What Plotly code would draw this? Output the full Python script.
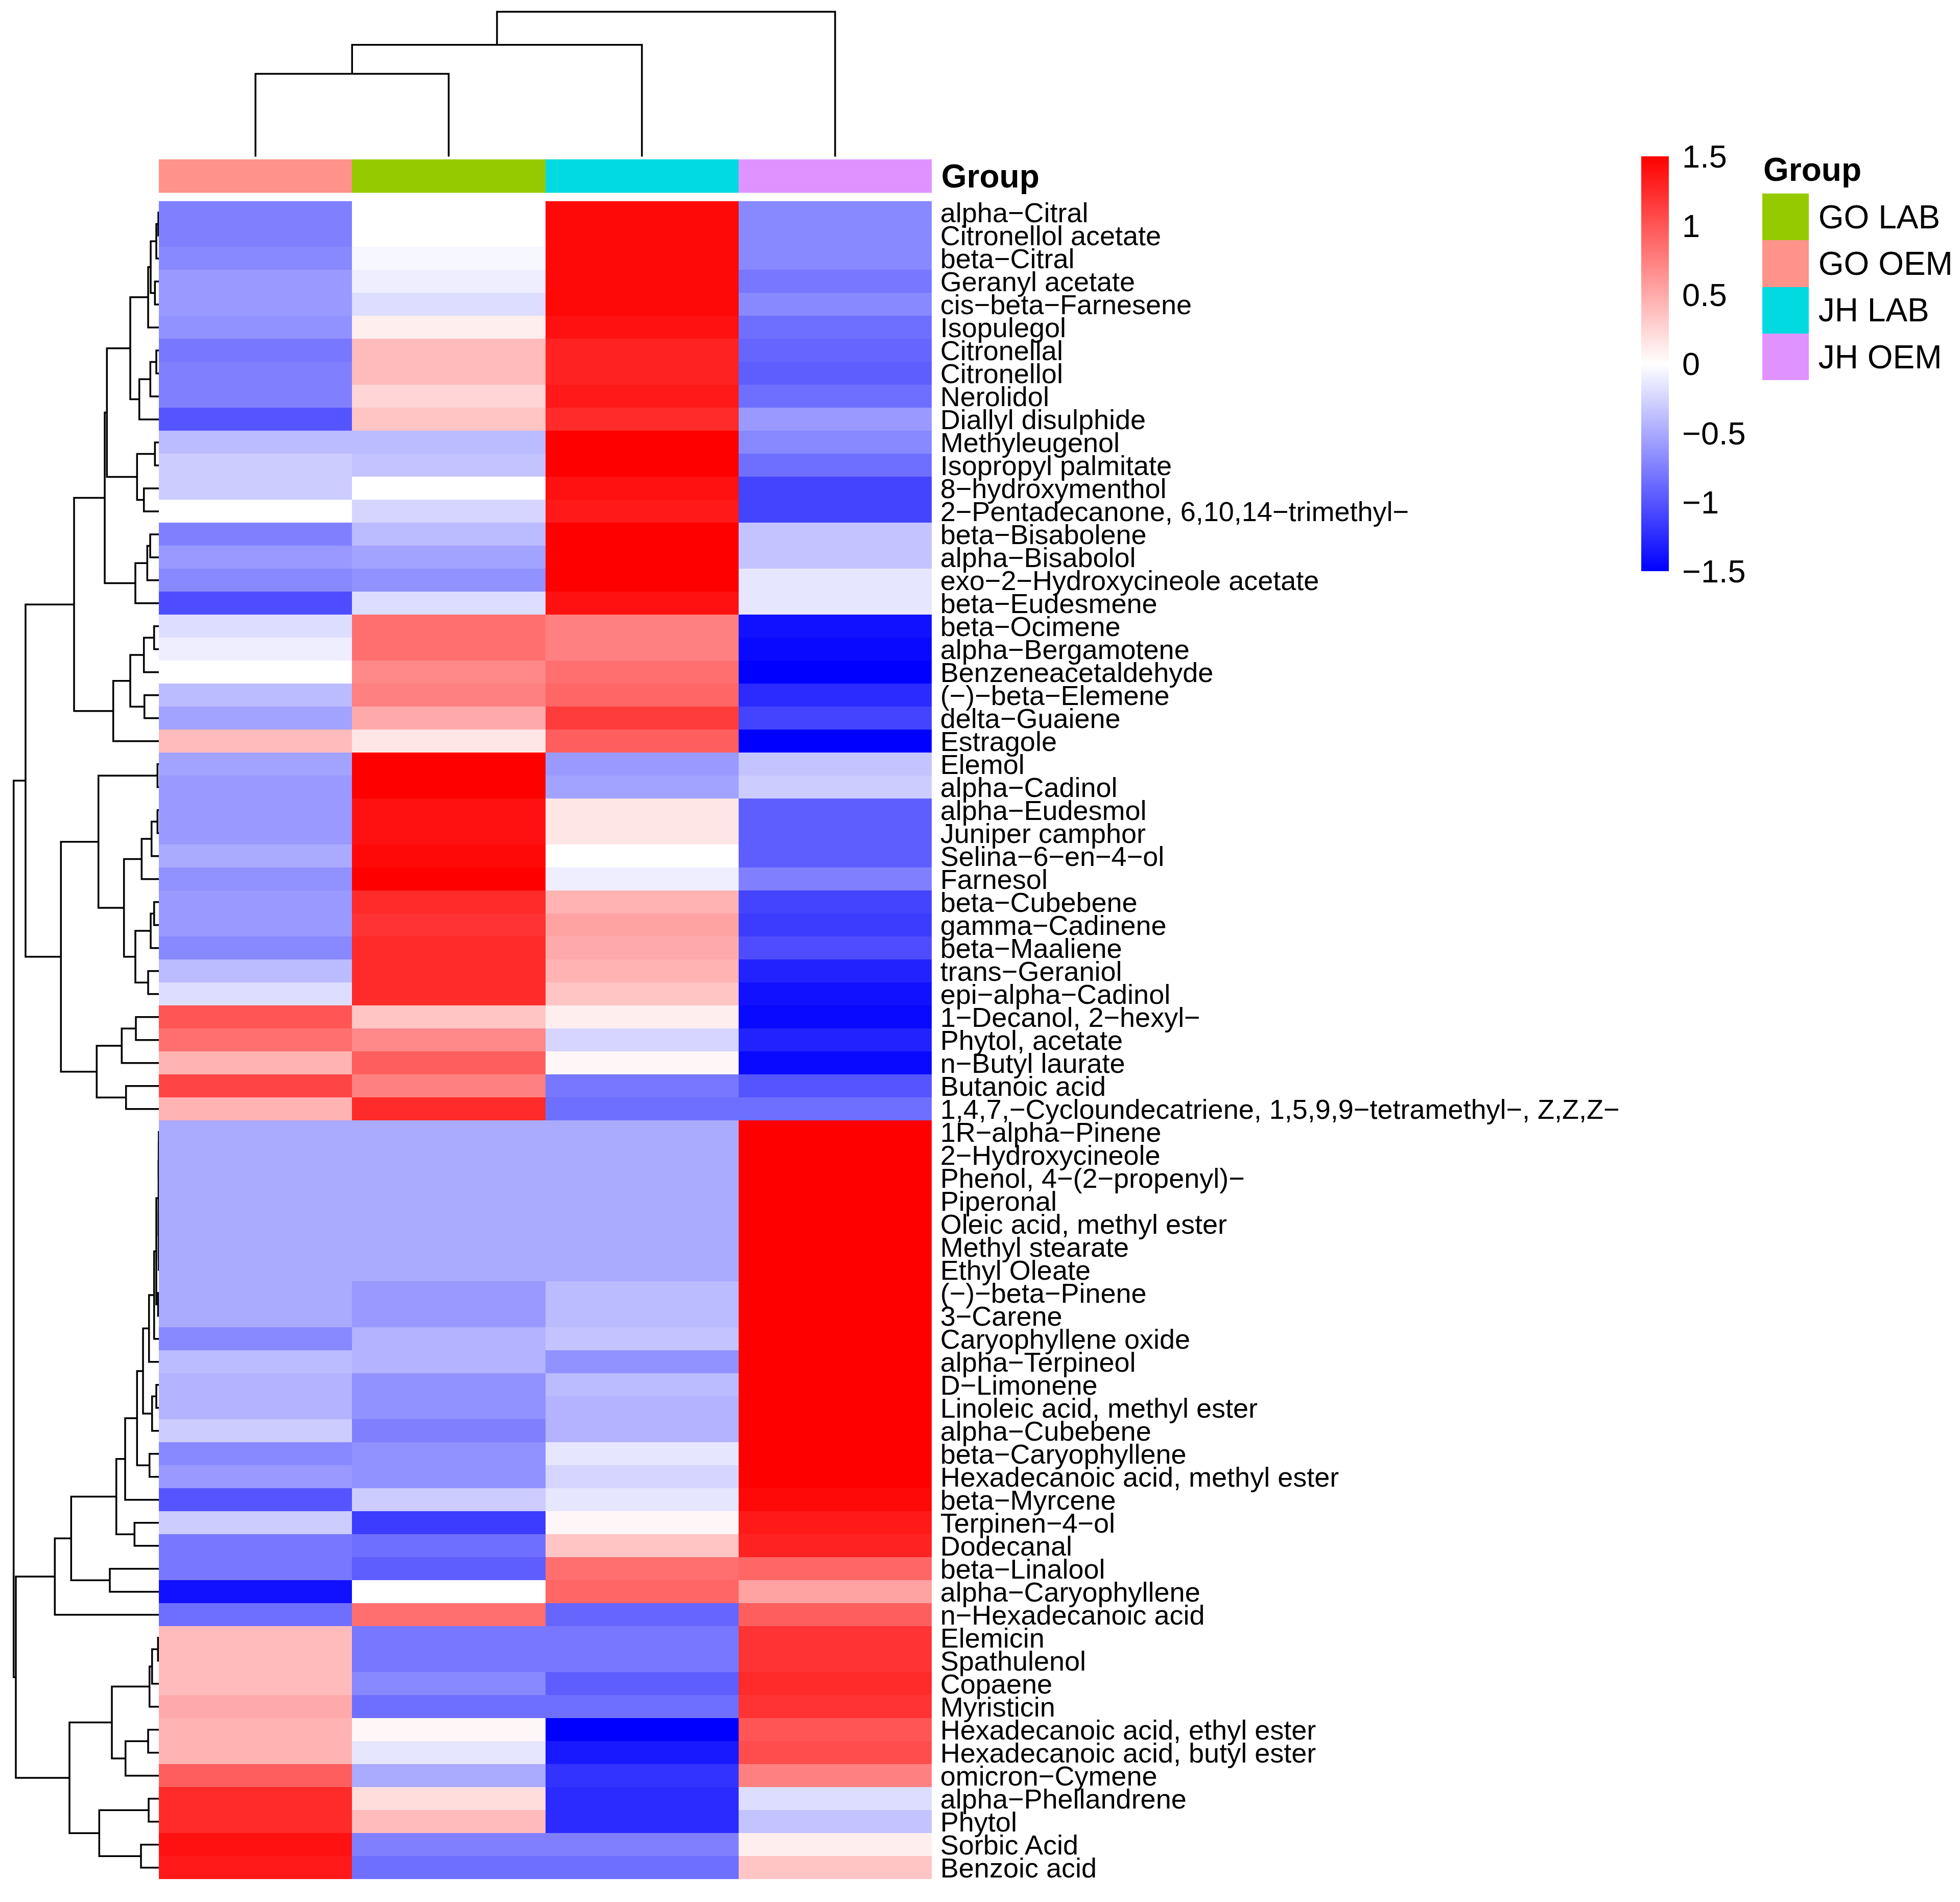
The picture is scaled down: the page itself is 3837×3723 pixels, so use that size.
import plotly.graph_objects as go

W, H = 3837, 3723
FONT = "Liberation Sans, Arial, Helvetica, sans-serif"
M = "\u2212"

compounds = [
    "alpha-Citral", "Citronellol acetate", "beta-Citral", "Geranyl acetate",
    "cis-beta-Farnesene", "Isopulegol", "Citronellal", "Citronellol", "Nerolidol",
    "Diallyl disulphide", "Methyleugenol", "Isopropyl palmitate", "8-hydroxymenthol",
    "2-Pentadecanone, 6,10,14-trimethyl-", "beta-Bisabolene", "alpha-Bisabolol",
    "exo-2-Hydroxycineole acetate", "beta-Eudesmene", "beta-Ocimene",
    "alpha-Bergamotene", "Benzeneacetaldehyde", "(-)-beta-Elemene", "delta-Guaiene",
    "Estragole", "Elemol", "alpha-Cadinol", "alpha-Eudesmol", "Juniper camphor",
    "Selina-6-en-4-ol", "Farnesol", "beta-Cubebene", "gamma-Cadinene",
    "beta-Maaliene", "trans-Geraniol", "epi-alpha-Cadinol", "1-Decanol, 2-hexyl-",
    "Phytol, acetate", "n-Butyl laurate", "Butanoic acid",
    "1,4,7,-Cycloundecatriene, 1,5,9,9-tetramethyl-, Z,Z,Z-", "1R-alpha-Pinene",
    "2-Hydroxycineole", "Phenol, 4-(2-propenyl)-", "Piperonal",
    "Oleic acid, methyl ester", "Methyl stearate", "Ethyl Oleate", "(-)-beta-Pinene",
    "3-Carene", "Caryophyllene oxide", "alpha-Terpineol", "D-Limonene",
    "Linoleic acid, methyl ester", "alpha-Cubebene", "beta-Caryophyllene",
    "Hexadecanoic acid, methyl ester", "beta-Myrcene", "Terpinen-4-ol", "Dodecanal",
    "beta-Linalool", "alpha-Caryophyllene", "n-Hexadecanoic acid", "Elemicin",
    "Spathulenol", "Copaene", "Myristicin", "Hexadecanoic acid, ethyl ester",
    "Hexadecanoic acid, butyl ester", "omicron-Cymene", "alpha-Phellandrene",
    "Phytol", "Sorbic Acid", "Benzoic acid",
]

# heatmap column order (left to right)
columns = ["GO OEM", "GO LAB", "JH LAB", "JH OEM"]

# row-scaled values per group
go_oem = [-0.75, -0.75, -0.7, -0.6, -0.6, -0.65, -0.8, -0.75, -0.75, -1.0,
          -0.4, -0.3, -0.3, 0.0, -0.75, -0.6, -0.7, -1.05, -0.2, -0.1,
          0.0, -0.4, -0.55, 0.4, -0.55, -0.6, -0.6, -0.6, -0.5, -0.65,
          -0.6, -0.6, -0.7, -0.4, -0.2, 1.0, 0.85, 0.45, 1.1, 0.45,
          -0.5, -0.5, -0.5, -0.5, -0.5, -0.5, -0.5, -0.5, -0.5, -0.7,
          -0.4, -0.45, -0.45, -0.3, -0.7, -0.6, -1.0, -0.3, -0.8, -0.8,
          -1.4, -0.85, 0.4, 0.4, 0.4, 0.5, 0.45, 0.45, 0.95, 1.25,
          1.25, 1.4, 1.35]
go_lab = [0.0, 0.0, -0.05, -0.1, -0.2, 0.1, 0.4, 0.4, 0.25, 0.35,
          -0.4, -0.35, 0.0, -0.25, -0.4, -0.55, -0.65, -0.2, 0.85, 0.85,
          0.7, 0.75, 0.5, 0.15, 1.5, 1.5, 1.4, 1.4, 1.45, 1.5,
          1.25, 1.2, 1.25, 1.25, 1.25, 0.35, 0.7, 0.95, 0.75, 1.25,
          -0.5, -0.5, -0.5, -0.5, -0.5, -0.5, -0.5, -0.6, -0.6, -0.45,
          -0.45, -0.65, -0.65, -0.75, -0.65, -0.65, -0.3, -1.15, -0.85, -0.95,
          0.0, 0.85, -0.8, -0.8, -0.7, -0.85, 0.05, -0.15, -0.5, 0.2,
          0.4, -0.75, -0.85]
jh_lab = [1.45, 1.45, 1.45, 1.45, 1.45, 1.4, 1.3, 1.3, 1.35, 1.25,
          1.5, 1.5, 1.4, 1.35, 1.5, 1.5, 1.5, 1.4, 0.75, 0.75,
          0.85, 0.9, 1.15, 0.95, -0.6, -0.55, 0.15, 0.15, 0.0, -0.1,
          0.45, 0.55, 0.5, 0.45, 0.35, 0.1, -0.25, 0.05, -0.8, -0.85,
          -0.5, -0.5, -0.5, -0.5, -0.5, -0.5, -0.5, -0.4, -0.4, -0.35,
          -0.65, -0.4, -0.45, -0.45, -0.15, -0.25, -0.15, 0.05, 0.35, 0.85,
          0.9, -0.9, -0.8, -0.8, -0.95, -0.85, -1.5, -1.35, -1.2, -1.25,
          -1.25, -0.75, -0.85]
jh_oem = [-0.7, -0.7, -0.7, -0.8, -0.7, -0.85, -0.9, -0.95, -0.85, -0.6,
          -0.7, -0.85, -1.1, -1.1, -0.35, -0.35, -0.15, -0.15, -1.4, -1.45,
          -1.5, -1.25, -1.1, -1.5, -0.35, -0.3, -0.95, -0.95, -0.95, -0.75,
          -1.1, -1.15, -1.05, -1.3, -1.4, -1.45, -1.3, -1.45, -1.0, -0.85,
          1.5, 1.5, 1.5, 1.5, 1.5, 1.5, 1.5, 1.5, 1.5, 1.5,
          1.5, 1.5, 1.5, 1.5, 1.5, 1.5, 1.45, 1.35, 1.3, 0.9,
          0.55, 0.95, 1.2, 1.2, 1.25, 1.2, 1.0, 1.05, 0.75, -0.2,
          -0.35, 0.1, 0.35]

legend_groups = ["GO LAB", "GO OEM", "JH LAB", "JH OEM"]
legend_colors = ["#96CA00", "#FF9289", "#00DAE0", "#E093FF"]

# row dendrogram, hclust-style merges: negative = leaf (1-based), positive = merge (1-based)
row_merges = [
    (-1, -2, 1.0), (1, -3, 5.0), (-4, -5, 7.7), (2, 3, 16.0), (4, -6, 21.0),
    (-7, -8, 5.0), (6, -9, 16.7), (7, -10, 38.3), (5, 8, 56.0), (-11, -12, 7.7),
    (-13, -14, 29.3), (10, 11, 42.7), (9, 12, 101.7), (-15, -16, 17.0), (14, -17, 22.7),
    (15, -18, 46.0), (13, 16, 106.0), (-19, -20, 9.3), (18, -21, 29.3), (-22, -23, 28.3),
    (19, 20, 56.0), (21, -24, 89.3), (17, 22, 166.0), (-25, -26, 2.7), (-27, -28, 2.7),
    (25, -29, 14.3), (26, -30, 33.7), (-31, -32, 9.3), (28, -33, 16.0), (-34, -35, 21.0),
    (29, 30, 46.0), (27, 31, 68.3), (24, 32, 118.3), (-36, -37, 45.0), (34, -38, 72.7),
    (-39, -40, 64.3), (35, 36, 121.7), (33, 37, 191.7), (23, 38, 261.0), (-41, -42, 0.2),
    (40, -43, 0.4), (-44, -45, 0.2), (-46, -47, 0.2), (42, 43, 0.4), (41, 44, 0.6),
    (-48, -49, 1.5), (45, 46, 5.0), (47, -50, 9.3), (48, -51, 19.3), (-52, -53, 5.0),
    (50, -54, 13.3), (49, 51, 31.0), (-55, -56, 18.3), (52, 53, 42.7), (54, -57, 66.0),
    (-58, -59, 47.7), (55, 56, 83.3), (-60, -61, 96.0), (57, 58, 171.7), (59, -62, 203.7),
    (-63, -64, 1.7), (61, -65, 13.3), (62, -66, 18.3), (-67, -68, 21.0), (64, -69, 65.3),
    (63, 65, 92.0), (-70, -71, 20.0), (-72, -73, 35.0), (67, 68, 116.7), (66, 69, 175.0),
    (60, 70, 280.0), (39, 71, 284.3),
]
col_merges = [(-1, -2, 163.0), (1, -3, 220.0), (2, -4, 285.0)]


def dendro_segments(merges):
    """Return list of (pos, height) polylines from hclust merges (leaves at 0..n-1)."""
    pos, hgt = {}, {}
    segs = []

    def get(ref):
        if ref < 0:
            return float(-ref - 1), 0.0
        return pos[ref], hgt[ref]

    for k, (a, b, h) in enumerate(merges, start=1):
        pa, ha = get(a)
        pb, hb = get(b)
        segs.append(([pa, pa, pb, pb], [ha, h, h, hb]))
        pos[k] = (pa + pb) / 2.0
        hgt[k] = h
    return segs


def fix(s):
    return s.replace("-", M)


n = len(compounds)
z = [[go_oem[i], go_lab[i], jh_lab[i], jh_oem[i]] for i in range(n)]

# pixel geometry -> paper fractions
hm_x0, hm_x1 = 311 / W, 1824 / W
hm_y0, hm_y1 = 1 - 3685 / H, 1 - 387 / H
an_y0, an_y1 = 1 - 371 / H, 1 - 305 / H
cd_y0, cd_y1 = 1 - 300 / H, 1.0
rd_x0, rd_x1 = 0.0, 311 / W
lg_x0, lg_x1 = 3450 / W, 3541 / W
lg_y0, lg_y1 = 1 - 739 / H, 1 - 372 / H

fig = go.Figure()

# main heatmap
fig.add_trace(go.Heatmap(
    z=z, x=list(range(4)), y=list(range(n)),
    colorscale=[[0, "#0000FF"], [0.5, "#FFFFFF"], [1, "#FF0000"]],
    zmin=-1.5, zmax=1.5, xaxis="x", yaxis="y",
    colorbar=dict(
        x=3213 / W, xanchor="left", xpad=0,
        y=1 - 707 / H, yanchor="middle", ypad=0,
        thickness=54, thicknessmode="pixels",
        len=812, lenmode="pixels",
        outlinewidth=0,
        tickvals=[1.5, 1, 0.5, 0, -0.5, -1, -1.5],
        ticktext=["1.5", "1", "0.5", "0", M + "0.5", M + "1", M + "1.5"],
        ticks="outside", ticklen=14, tickcolor="rgba(0,0,0,0)",
        tickfont=dict(size=63, color="black", family=FONT),
    ),
))

# annotation bar
col_idx = [legend_groups.index(c) for c in columns]
disc_scale = [[i / 3, c] for i, c in enumerate(legend_colors)]
fig.add_trace(go.Heatmap(
    z=[col_idx], x=list(range(4)), y=[0], colorscale=disc_scale,
    zmin=0, zmax=3, showscale=False, xaxis="x", yaxis="y2",
))

# legend squares
fig.add_trace(go.Heatmap(
    z=[[i] for i in range(4)], x=[0], y=list(range(4)), colorscale=disc_scale,
    zmin=0, zmax=3, showscale=False, xaxis="x5", yaxis="y5",
))

# row dendrogram
for ys, xs in dendro_segments(row_merges):
    fig.add_trace(go.Scatter(x=xs, y=ys, mode="lines", xaxis="x3", yaxis="y3",
                             line=dict(color="black", width=3.5), hoverinfo="skip",
                             showlegend=False))

# column dendrogram
for xs, ys in dendro_segments(col_merges):
    fig.add_trace(go.Scatter(x=xs, y=ys, mode="lines", xaxis="x4", yaxis="y4",
                             line=dict(color="black", width=3.5), hoverinfo="skip",
                             showlegend=False))

hidden = dict(showgrid=False, zeroline=False, showticklabels=False, ticks="", showline=False)

fig.update_layout(
    width=W, height=H,
    margin=dict(l=0, r=0, t=0, b=0, pad=0),
    paper_bgcolor="white", plot_bgcolor="white",
    showlegend=False,
    font=dict(family=FONT, color="black"),
    xaxis=dict(domain=[hm_x0, hm_x1], range=[-0.5, 3.5], **hidden),
    yaxis=dict(domain=[hm_y0, hm_y1], range=[n - 0.5, -0.5], side="right",
               tickvals=list(range(n)), ticktext=[fix(c) for c in compounds],
               showgrid=False, zeroline=False, showline=False,
               ticks="outside", ticklen=5, tickcolor="rgba(0,0,0,0)",
               tickfont=dict(size=54, color="black", family=FONT)),
    yaxis2=dict(domain=[an_y0, an_y1], range=[-0.5, 0.5], side="right", anchor="x",
                tickvals=[0], ticktext=["<b>Group</b>"],
                showgrid=False, zeroline=False, showline=False,
                ticks="outside", ticklen=5, tickcolor="rgba(0,0,0,0)",
                tickfont=dict(size=64, color="black", family=FONT)),
    xaxis3=dict(domain=[rd_x0, rd_x1], range=[311, 0], anchor="y3", **hidden),
    yaxis3=dict(domain=[hm_y0, hm_y1], range=[n - 0.5, -0.5], anchor="x3", **hidden),
    xaxis4=dict(domain=[hm_x0, hm_x1], range=[-0.5, 3.5], anchor="y4", **hidden),
    yaxis4=dict(domain=[cd_y0, cd_y1], range=[0, 300], anchor="x4", **hidden),
    xaxis5=dict(domain=[lg_x0, lg_x1], range=[-0.5, 0.5], anchor="y5", **hidden),
    yaxis5=dict(domain=[lg_y0, lg_y1], range=[3.5, -0.5], anchor="x5", side="right",
                tickvals=list(range(4)), ticktext=legend_groups,
                showgrid=False, zeroline=False, showline=False,
                ticks="outside", ticklen=5, tickcolor="rgba(0,0,0,0)",
                tickfont=dict(size=64, color="black", family=FONT)),
    annotations=[dict(text="<b>Group</b>", x=lg_x0, y=1 - 325 / H, xref="paper",
                      yref="paper", xanchor="left", yanchor="middle", showarrow=False,
                      font=dict(size=64, color="black", family=FONT))],
)

fig.write_html("out.html",
               config={"displayModeBar": False},
               post_script="document.body.style.margin='0px';document.body.style.overflow='hidden';")
